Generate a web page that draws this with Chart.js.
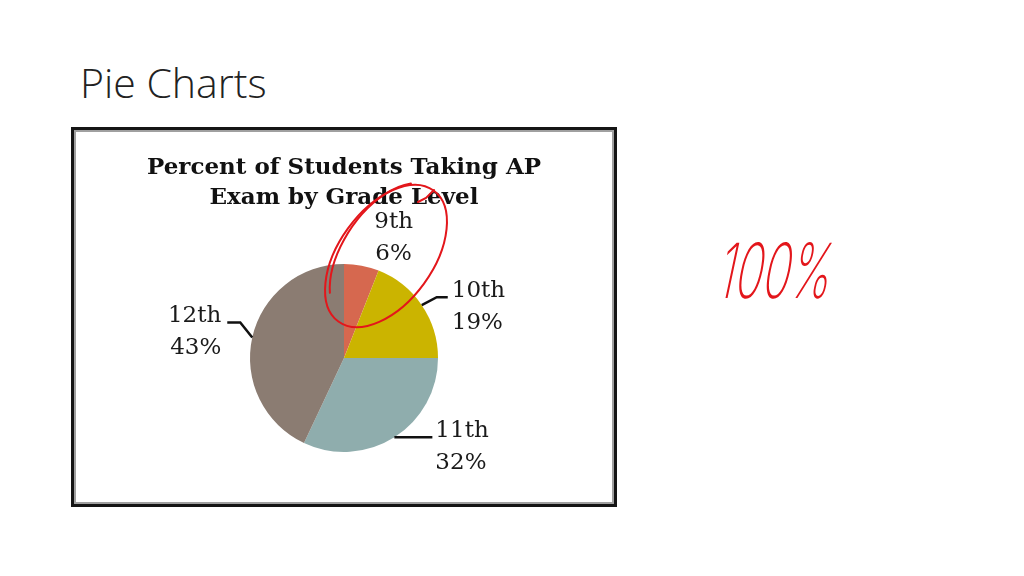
<!DOCTYPE html>
<html>
<head>
<meta charset="utf-8">
<script src="https://cdn.jsdelivr.net/npm/chart.js@4/dist/chart.umd.min.js"></script>
<style>
  html, body { margin: 0; padding: 0; background: #fff; }
  body { width: 1024px; height: 576px; position: relative; overflow: hidden; }
  #slideTitle {
    position: absolute; left: 80px; top: 54px;
    font-family: "Open Sans", sans-serif; font-weight: 300; font-size: 41px;
    color: #222; white-space: nowrap;
  }
  #frame {
    position: absolute; left: 71px; top: 127px; width: 546px; height: 380px;
    box-sizing: border-box; border: 3px solid #151515; background: #fff;
    box-shadow: inset 0 0 0 2px #a0a0a0;
  }
  #frame canvas { position: absolute; left: 0; top: 0; }
  #note {
    position: absolute; left: 729px; top: 232px;
    font-family: Inter, Roboto, sans-serif; font-weight: 200; font-size: 76px; line-height: 76px;
    color: #e3161b; white-space: nowrap;
    transform-origin: left top; transform: skewX(-12deg) scaleX(0.6);
  }
</style>
</head>
<body>
<div id="slideTitle">Pie Charts</div>
<div id="frame"><canvas id="apChart" width="540" height="374"></canvas></div>
<div id="note">100%</div>
<script>
const categories = ["9th", "10th", "11th", "12th"];
const percents = [6, 19, 32, 43];
const titleLines = ["Percent of Students Taking AP", "Exam by Grade Level"];

const sliceColors = ["#d6684f", "#cbb400", "#8fadad", "#8b7c72"];

// where each label sits, measured from the slice's outer edge at its middle angle
const labelLayout = [
  { elbow: null, dx: 32, dy: -38 }, // 9th sits above the slice, no leader line
  { elbow: [15, -8], run: 11, gap: 4 },
  { elbow: [0, 0], run: 38, gap: 3 },
  { elbow: [-12, -15], run: -13, gap: 6 },
];

const leaderLabels = {
  id: "leaderLabels",
  afterDatasetsDraw(chart) {
    const ctx = chart.ctx;
    const meta = chart.getDatasetMeta(0);
    ctx.save();
    ctx.font = '23px "DejaVu Serif"';
    ctx.fillStyle = "#1a1a1a";
    ctx.strokeStyle = "#111";
    ctx.lineWidth = 2.5;
    ctx.textBaseline = "alphabetic";
    meta.data.forEach((arc, i) => {
      const { x, y, startAngle, endAngle, outerRadius } = arc.getProps(
        ["x", "y", "startAngle", "endAngle", "outerRadius"], true);
      const mid = (startAngle + endAngle) / 2;
      const ex = x + Math.cos(mid) * outerRadius;
      const ey = y + Math.sin(mid) * outerRadius;
      const lay = labelLayout[i];
      let tx, ty;
      if (!lay.elbow) {
        ctx.textAlign = "center";
        tx = ex + lay.dx;
        ty = ey + lay.dy;
      } else {
        const bx = ex + lay.elbow[0];
        const by = ey + lay.elbow[1];
        const endX = bx + lay.run;
        ctx.beginPath();
        ctx.moveTo(ex, ey);
        ctx.lineTo(bx, by);
        ctx.lineTo(endX, by);
        ctx.stroke();
        const dir = Math.sign(lay.run);
        ctx.textAlign = dir > 0 ? "left" : "right";
        tx = endX + dir * lay.gap;
        ty = by;
      }
      ctx.fillText(categories[i], tx, ty);
      ctx.fillText(percents[i] + "%", tx, ty + 32);
    });
    ctx.restore();
  },
};

// the red pen loop drawn round the 9th grade slice
const penMarks = {
  id: "penMarks",
  afterDraw(chart) {
    const ctx = chart.ctx;
    ctx.save();
    ctx.strokeStyle = "#e3161b";
    ctx.lineWidth = 2;
    ctx.lineCap = "round";
    ctx.beginPath();
    ctx.ellipse(312, 126, 81, 47, -54 * Math.PI / 180, 0, Math.PI * 2);
    ctx.stroke();
    ctx.beginPath();
    ctx.ellipse(314, 124, 80, 45, -56 * Math.PI / 180, Math.PI * 1.2, Math.PI * 1.85);
    ctx.stroke();
    ctx.beginPath();
    ctx.moveTo(360, 60);
    ctx.lineTo(352, 68);
    ctx.lineTo(344, 72);
    ctx.stroke();
    ctx.restore();
  },
};

new Chart(document.getElementById("apChart"), {
  type: "pie",
  data: {
    labels: categories,
    datasets: [
      {
        data: percents,
        backgroundColor: sliceColors,
        borderWidth: 0,
        radius: 94,
      },
    ],
  },
  options: {
    responsive: false,
    animation: false,
    layout: { padding: { top: 0, bottom: 48, left: 0, right: 0 } },
    plugins: {
      legend: { display: false },
      tooltip: { enabled: false },
      title: {
        display: true,
        text: titleLines,
        color: "#111",
        font: { family: "DejaVu Serif", size: 23, weight: "bold", lineHeight: 30 / 23 },
        padding: { top: 23, bottom: 47 },
      },
    },
  },
  plugins: [leaderLabels, penMarks],
});
</script>
</body>
</html>
